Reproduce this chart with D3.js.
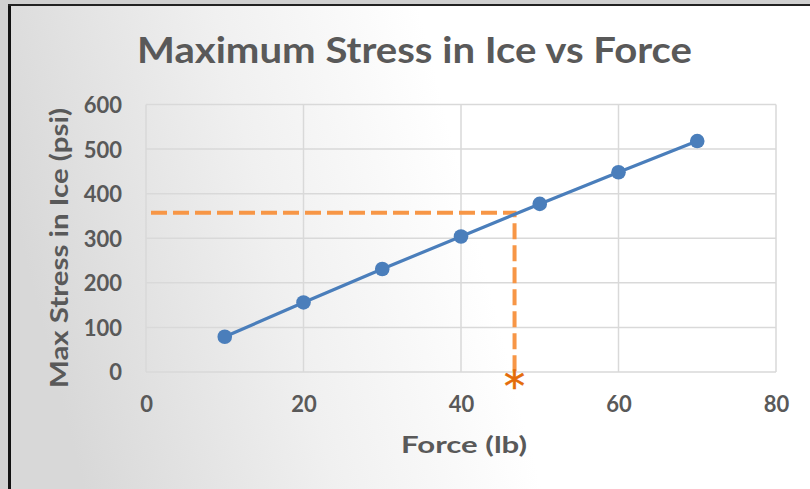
<!DOCTYPE html>
<html>
<head>
<meta charset="utf-8">
<script src="https://cdn.jsdelivr.net/npm/d3@7"></script>
<style>
  html, body { margin: 0; padding: 0; background: #d0d0d0; }
  svg { display: block; }
  text { font-family: Lato, "Open Sans", sans-serif; font-weight: 700; fill: #595959; }
</style>
</head>
<body>
<svg id="chart" width="810" height="489"></svg>
<script>
// Measured stress in the ice sheet for each applied force
const forces = [10, 20, 30, 40, 50, 60, 70];
const stresses = [79, 156, 231, 304, 377, 448, 518];

// Axis ticks
const xTicks = [0, 20, 40, 60, 80];
const yTicks = [0, 100, 200, 300, 400, 500, 600];

// Read-off point: stress of 357 psi corresponds to about 46.8 lb
const readForce = [46.8];
const readStress = [357];

const titleText = "Maximum Stress in Ice vs Force";
const xTitle = "Force (lb)";
const yTitle = "Max Stress in Ice (psi)";

const W = 810, H = 489;
const plot = { left: 146, right: 776, top: 104.5, bottom: 372 };

const svg = d3.select("#chart");

// Background panel with soft grey-to-white fade
const defs = svg.append("defs");
const grad = defs.append("linearGradient")
  .attr("id", "bg").attr("gradientUnits", "userSpaceOnUse")
  .attr("x1", 10).attr("y1", 200).attr("x2", 440).attr("y2", 90);
grad.append("stop").attr("offset", 0).attr("stop-color", "#d8d8d8");
grad.append("stop").attr("offset", 0.55).attr("stop-color", "#f0f0f0");
grad.append("stop").attr("offset", 1).attr("stop-color", "#ffffff");

svg.append("rect").attr("x", 0).attr("y", 0).attr("width", W).attr("height", H).attr("fill", "#d0d0d0");
svg.append("rect").attr("x", 9).attr("y", 5).attr("width", W - 9).attr("height", H - 5).attr("fill", "url(#bg)");
// Panel frame (left and top edges)
svg.append("line").attr("x1", 9.5).attr("x2", 9.5).attr("y1", 4).attr("y2", H)
  .attr("stroke", "#111").attr("stroke-width", 3);
svg.append("line").attr("x1", 8).attr("x2", W).attr("y1", 5).attr("y2", 5)
  .attr("stroke", "#222").attr("stroke-width", 2);

const x = d3.scaleLinear().domain([0, 80]).range([plot.left, plot.right]);
const y = d3.scaleLinear().domain([0, 600]).range([plot.bottom, plot.top]);

// Gridlines
const grid = svg.append("g").attr("stroke", "#d9d9d9").attr("stroke-width", 1.5);
grid.selectAll("line.h").data(yTicks).join("line").attr("class", "h")
  .attr("x1", plot.left).attr("x2", plot.right)
  .attr("y1", d => y(d)).attr("y2", d => y(d));
grid.selectAll("line.v").data(xTicks).join("line").attr("class", "v")
  .attr("y1", plot.top).attr("y2", plot.bottom)
  .attr("x1", d => x(d)).attr("x2", d => x(d));

// Axes (labels only; lines come from the grid)
const xAxis = svg.append("g").attr("transform", `translate(0,${plot.bottom})`)
  .call(d3.axisBottom(x).tickValues(xTicks).tickSize(0).tickPadding(24));
const yAxis = svg.append("g").attr("transform", `translate(${plot.left},0)`)
  .call(d3.axisLeft(y).tickValues(yTicks).tickSize(0).tickPadding(24));
[xAxis, yAxis].forEach(a => {
  a.select(".domain").remove();
  a.selectAll("text").style("font-size", "22px").style("fill", "#595959")
    .style("font-family", "Lato, sans-serif").style("font-weight", 700);
});
yAxis.selectAll("text").attr("dy", "0.36em");

// Titles
svg.append("text").attr("x", 137).attr("y", 62.5)
  .attr("textLength", 555).attr("lengthAdjust", "spacingAndGlyphs")
  .style("font-size", "35.5px").text(titleText);

svg.append("text").attr("x", 401).attr("y", 453)
  .attr("textLength", 126).attr("lengthAdjust", "spacingAndGlyphs")
  .style("font-size", "23px").text(xTitle);

svg.append("text")
  .attr("transform", "translate(68,388) rotate(-90)")
  .attr("textLength", 280).attr("lengthAdjust", "spacingAndGlyphs")
  .style("font-size", "25px").text(yTitle);

// Dashed read-off guide
const guide = d3.line().x(d => x(d[0])).y(d => y(d[1]));
svg.append("path")
  .attr("d", guide([[0, readStress[0]], [readForce[0], readStress[0]], [readForce[0], 0]]))
  .attr("fill", "none").attr("stroke", "#f79646").attr("stroke-width", 4)
  .attr("stroke-dasharray", "16,6").attr("stroke-dashoffset", 17);

// Data series
const line = d3.line().x((d, i) => x(forces[i])).y(d => y(d));
svg.append("path").attr("d", line(stresses))
  .attr("fill", "none").attr("stroke", "#4a7ebb").attr("stroke-width", 3.2);
svg.selectAll("circle.pt").data(stresses).join("circle").attr("class", "pt")
  .attr("cx", (d, i) => x(forces[i])).attr("cy", d => y(d)).attr("r", 7.3)
  .attr("fill", "#4a7ebb");

// Marker on the force axis
svg.append("text").attr("x", x(readForce[0])).attr("y", plot.bottom + 29)
  .attr("text-anchor", "middle").style("font-size", "42px").style("font-weight", 400)
  .style("font-family", "'DejaVu Sans', sans-serif").style("fill", "#e46c0a")
  .style("stroke", "#e46c0a").style("stroke-width", 0.6)
  .text("*");
</script>
</body>
</html>
